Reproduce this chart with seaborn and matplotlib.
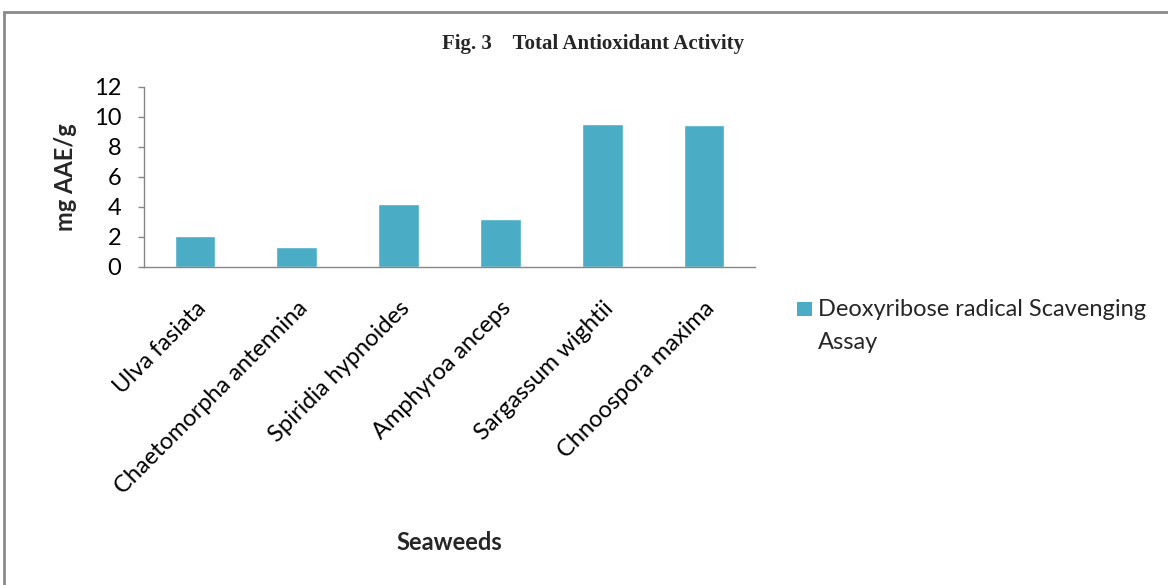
import matplotlib
matplotlib.use("Agg")
import matplotlib.pyplot as plt
import seaborn as sns
import pandas as pd
from matplotlib.patches import Rectangle

# Seaweed species and their deoxyribose radical scavenging activity (mg AAE/g)
seaweeds = ["Ulva fasiata", "Chaetomorpha antennina", "Spiridia hypnoides",
            "Amphyroa anceps", "Sargassum wightii", "Chnoospora maxima"]
activity = [2.05, 1.33, 4.22, 3.21, 9.53, 9.44]
series_name = "Deoxyribose radical Scavenging Assay"
y_ticks = [0, 2, 4, 6, 8, 10, 12]

df = pd.DataFrame({"Seaweed": seaweeds, "Activity": activity, "Series": series_name})

sns.set_theme(style="white")
plt.rcParams["font.family"] = ["Lato", "DejaVu Sans"]

BAR = "#4BACC6"
AXIS = "#868686"

fig = plt.figure(figsize=(11.68, 5.85), dpi=100)
ax = fig.add_axes([0.1233, 0.5436, 0.5231, 0.3077])

sns.barplot(data=df, x="Seaweed", y="Activity", hue="Series", palette=[BAR],
            width=0.4, saturation=1, ax=ax, legend=False)

ax.set_ylim(0, 12)
ax.set_xlim(-0.5, len(seaweeds) - 0.5)
ax.set_yticks(y_ticks)
ax.tick_params(axis="y", labelsize=17, length=4.5, width=1, color=AXIS, pad=12,
               left=True, labelcolor="black")
ax.tick_params(axis="x", length=0, pad=22, labelcolor="black")
ax.set_xticks(range(len(seaweeds)))
ax.set_xticklabels(seaweeds, rotation=45, ha="right", rotation_mode="anchor",
                   fontsize=17)

for side in ["top", "right"]:
    ax.spines[side].set_visible(False)
for side in ["left", "bottom"]:
    ax.spines[side].set_color(AXIS)
    ax.spines[side].set_linewidth(1)

ax.set_xlabel("")
ax.set_ylabel("mg AAE/g", fontsize=17, fontweight="bold", labelpad=12)

fig.text(0.508, 0.925, "Fig. 3    Total Antioxidant Activity", ha="center", va="center",
         fontsize=15, fontweight="bold", family=["Liberation Serif", "DejaVu Serif"])
fig.text(0.385, 0.072, "Seaweeds", ha="center", va="center", fontsize=17,
         fontweight="bold")

# series key: colour square beside the first line of the wrapped series name
W, H = fig.get_size_inches() * fig.dpi
fig.patches.append(Rectangle((797 / W, 1 - 316 / H), 15 / W, 14 / H,
                             transform=fig.transFigure, facecolor=BAR,
                             edgecolor="none"))
fig.text(818 / W, 1 - 299 / H, "Deoxyribose radical Scavenging\nAssay",
         ha="left", va="top", fontsize=17, linespacing=1.7,
         transform=fig.transFigure)

# outer chart frame
fig.patches.append(Rectangle((0.0035, -0.5), 1.5, 1.5 - 0.021, transform=fig.transFigure,
                             fill=False, edgecolor="#8a8a8a", linewidth=2))

fig.savefig("out.png", dpi=100)
